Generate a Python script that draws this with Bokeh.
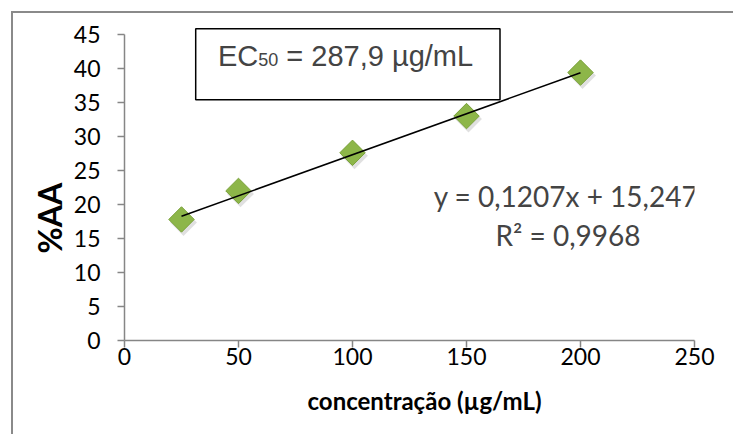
import math
from bokeh.plotting import figure
from bokeh.models import (Range1d, FixedTicker, Label, BoxAnnotation, Title,
                          ColumnDataSource)
from bokeh.transform import dodge
from bokeh.embed import file_html
from bokeh.resources import INLINE

# ---- data ----
conc = [25, 50, 100, 150, 200]
aa = [17.8, 22.0, 27.6, 33.0, 39.4]
slope = 0.1207
intercept = 15.247
x_ticks = [0, 50, 100, 150, 200, 250]
y_ticks = [0, 5, 10, 15, 20, 25, 30, 35, 40, 45]
eq_text = "y = 0,1207x + 15,247"
r2_text = "R² = 0,9968"
ec_value = "= 287,9 µg/mL"
x_title = "concentração (µg/mL)"
y_title = "%AA"

# ---- geometry helpers (page px -> data) ----
PAGE_X0, PAGE_X1 = 124.5, 694.5   # x = 0 and x = 250
PAGE_Y0, PAGE_Y45 = 340.0, 34.0   # y = 0 and y = 45
PX_PER_Y = (PAGE_Y0 - PAGE_Y45) / 45.0
PX_PER_X = (PAGE_X1 - PAGE_X0) / 250.0
BASE_FIX = 11  # empirical baseline correction for labels
def dx(px):
    return (px - PAGE_X0) / PX_PER_X
def dy(py):
    return (PAGE_Y0 - py) / PX_PER_Y
def dyb(py):
    return dy(py - BASE_FIX)

OFF = 13            # canvas offset on page (margin 11 + border 2)
W, H = 722, 423
left = 111
frame_top = 14
frame_bottom = 327
y_end = 45 + (PAGE_Y45 - OFF - frame_top) / PX_PER_Y

p = figure(width=W, height=H, output_backend="svg", toolbar_location=None,
           x_range=Range1d(0, 250), y_range=Range1d(0, y_end),
           min_border_left=left, min_border_right=W - left - 570,
           min_border_top=frame_top, min_border_bottom=H - frame_bottom)
p.margin = (11, 0, 0, 11)
p.styles = {"border-top": "2px solid #8a8a8a", "border-left": "2px solid #8a8a8a"}
p.outline_line_color = None
p.xgrid.grid_line_color = None
p.ygrid.grid_line_color = None
p.background_fill_color = "white"
p.border_fill_color = "white"

for ax in (p.xaxis[0], p.yaxis[0]):
    ax.axis_line_color = "#868686"
    ax.axis_line_width = 1.5
    ax.major_tick_line_color = "#868686"
    ax.major_tick_line_width = 1.5
    ax.major_tick_out = 7
    ax.major_tick_in = 0
    ax.minor_tick_line_color = None
    ax.major_label_text_font = "Lato"
    ax.major_label_text_font_size = "23px"
    ax.major_label_text_color = "black"

p.xaxis.ticker = FixedTicker(ticks=x_ticks)
p.yaxis.ticker = FixedTicker(ticks=y_ticks)
p.yaxis.bounds = (0, 45)
p.xaxis.major_label_standoff = 0
p.yaxis.major_label_standoff = 17

# axis titles as side titles, shifted along the axes
xtitle = Title(text=x_title, align="left", offset=183, text_font="Lato",
               text_font_style="bold", text_font_size="24px", text_color="black",
               standoff=33)
p.add_layout(xtitle, "below")
ytitle = Title(text=y_title, align="left", offset=87, text_font="Lato",
               text_font_style="bold", text_font_size="32px", text_color="black",
               standoff=4)
p.add_layout(ytitle, "left")

src = ColumnDataSource(dict(x=conc, y=aa))

# soft marker shadow
p.scatter(x=dodge("x", 2.0 / PX_PER_X, range=p.x_range),
          y=dodge("y", -3.0 / PX_PER_Y, range=p.y_range), source=src,
          marker="square", size=19, angle=math.pi / 4,
          fill_color="black", fill_alpha=0.12, line_color=None)
# markers
p.scatter(x="x", y="y", source=src, marker="square", size=18, angle=math.pi / 4,
          fill_color="#8db649", line_color="#7aa23a", line_width=1)

# trendline
tx = [conc[0], conc[-1]]
ty = [slope * v + intercept for v in tx]
p.line(tx, ty, line_color="black", line_width=1.6)

# EC50 box
p.add_layout(BoxAnnotation(left=dx(195.7), right=dx(500), top=dy(28.3), bottom=dy(99.3),
                           fill_color="white", fill_alpha=1,
                           line_color="black", line_alpha=1, line_width=1.5))
fs_main = 29
x0 = 218
p.add_layout(Label(x=dx(x0), y=dyb(66), text="EC", text_font="Liberation Sans",
                   text_font_size=f"{fs_main}px", text_baseline="alphabetic"))
p.add_layout(Label(x=dx(x0 + 40.3), y=dyb(70), text="50", text_font="Liberation Sans",
                   text_font_size="18px", text_baseline="alphabetic"))
p.add_layout(Label(x=dx(x0 + 40.3 + 20 + 8), y=dyb(66), text=ec_value,
                   text_font="Liberation Sans", text_font_size=f"{fs_main}px",
                   text_baseline="alphabetic"))

# regression text
p.add_layout(Label(x=dx(566), y=dyb(206.7), text=eq_text, text_font="Lato",
                   text_font_size="28px", text_align="center", text_baseline="alphabetic"))
p.add_layout(Label(x=dx(568), y=dyb(245), text=r2_text, text_font="Lato",
                   text_font_size="28px", text_align="center", text_baseline="alphabetic"))

open("out.html", "w").write(file_html(p, INLINE))
